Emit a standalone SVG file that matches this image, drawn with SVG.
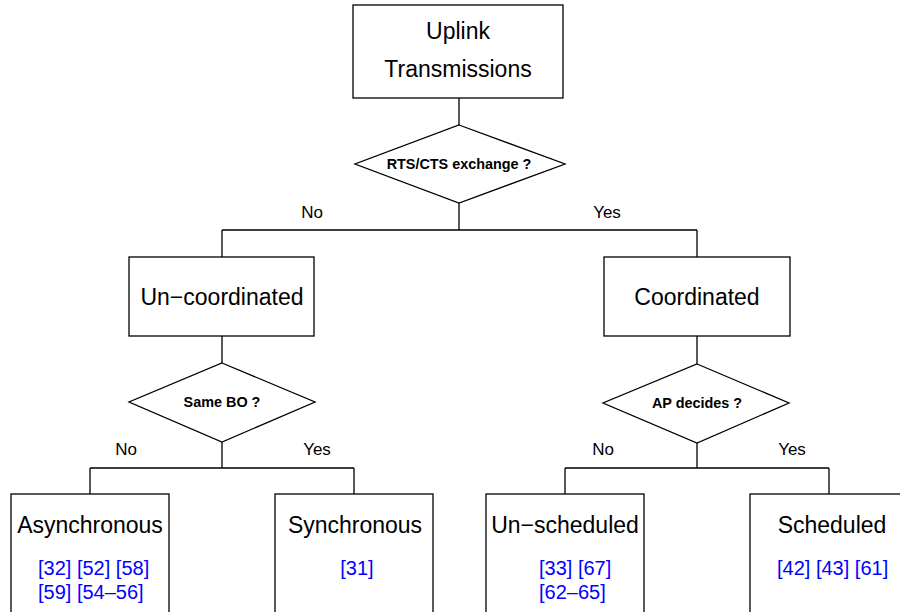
<svg xmlns="http://www.w3.org/2000/svg" width="900" height="612" viewBox="0 0 900 612">
<style>
.box{fill:#fff;stroke:#000;stroke-width:1.3}
.ln{fill:none;stroke:#000;stroke-width:1.3}
.t{font-family:"Liberation Sans",Arial,sans-serif;font-size:23px;fill:#000;text-anchor:middle}
.q{font-family:"Liberation Sans",Arial,sans-serif;font-size:14.4px;font-weight:bold;fill:#000;text-anchor:middle}
.l{font-family:"Liberation Sans",Arial,sans-serif;font-size:17px;fill:#000;text-anchor:middle}
.r{font-family:"Liberation Sans",Arial,sans-serif;font-size:20px;fill:#0000ff}
</style>
<rect width="900" height="612" fill="#fff"/>
<g id="connectors">
<path class="ln" d="M459 98V125M459 203V230M222 230H697M222 230V257M697 230V257"/>
<path class="ln" d="M222 336V363M222 442V468M90 468H354M90 468V494M354 468V494"/>
<path class="ln" d="M697 336V364M697 443V468M565 468H829M565 468V494M829 468V494"/>
<text class="l" x="312" y="218">No</text>
<text class="l" x="607" y="218">Yes</text>
<text class="l" x="126" y="455">No</text>
<text class="l" x="317" y="455">Yes</text>
<text class="l" x="603" y="455">No</text>
<text class="l" x="792" y="455">Yes</text>
</g>
<g id="uplink">
<rect class="box" x="353" y="5" width="210" height="93"/>
<text class="t" x="458" y="39">Uplink</text>
<text class="t" x="458" y="77">Transmissions</text>
</g>
<g id="rts">
<polygon class="box" points="459,125 565,164 459,203 355,164"/>
<text class="q" x="459" y="169">RTS/CTS exchange ?</text>
</g>
<g id="uncoordinated">
<rect class="box" x="129" y="257" width="185" height="79"/>
<text class="t" x="222" y="305">Un−coordinated</text>
</g>
<g id="coordinated">
<rect class="box" x="604" y="257" width="186" height="79"/>
<text class="t" x="697" y="305">Coordinated</text>
</g>
<g id="samebo">
<polygon class="box" points="222,363 315,402 222,442 129,402"/>
<text class="q" x="222" y="407">Same BO ?</text>
</g>
<g id="apdecides">
<polygon class="box" points="697,364 789,403 697,443 603,403"/>
<text class="q" x="697" y="408">AP decides ?</text>
</g>
<g id="asynchronous">
<rect class="box" x="11" y="494" width="158" height="130"/>
<text class="t" x="90" y="533">Asynchronous</text>
<text class="r" x="38" y="575">[32] [52] [58]</text>
<text class="r" x="38" y="599">[59] [54–56]</text>
</g>
<g id="synchronous">
<rect class="box" x="275" y="494" width="158" height="130"/>
<text class="t" x="355" y="533">Synchronous</text>
<text class="r" x="357" y="575" text-anchor="middle">[31]</text>
</g>
<g id="unscheduled">
<rect class="box" x="486" y="494" width="158" height="130"/>
<text class="t" x="565" y="533">Un−scheduled</text>
<text class="r" x="539" y="575">[33] [67]</text>
<text class="r" x="539" y="599">[62–65]</text>
</g>
<g id="scheduled">
<rect class="box" x="750" y="494" width="158" height="130"/>
<text class="t" x="832" y="533">Scheduled</text>
<text class="r" x="777" y="575">[42] [43] [61]</text>
</g>
</svg>
